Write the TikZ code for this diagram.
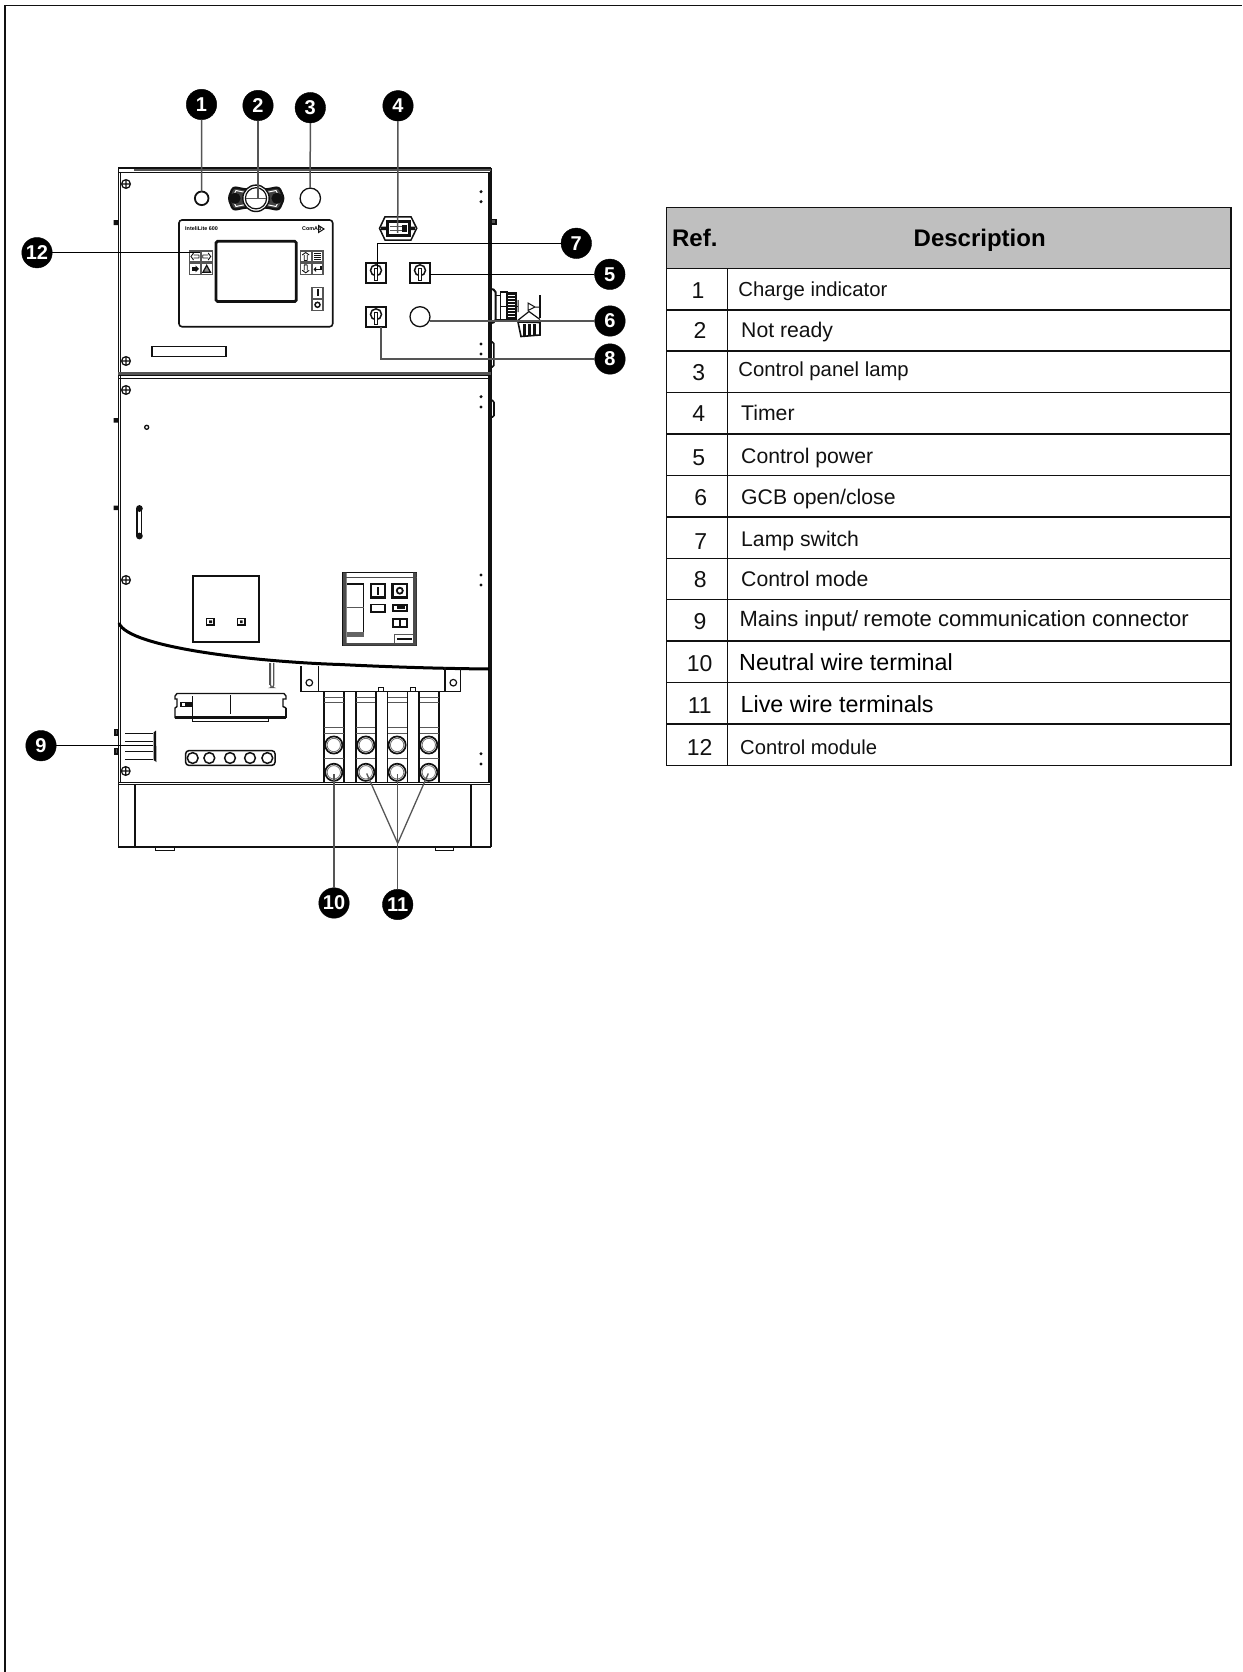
\documentclass[tikz,border=0pt]{standalone}
\usepackage{fontspec}
\setmainfont{Liberation Sans}
\usetikzlibrary{calc}
\definecolor{ink}{HTML}{111111}
\definecolor{lead}{HTML}{555555}
\definecolor{head}{HTML}{BFBFBF}
\tikzset{
  ln/.style={draw=ink,line width=1.1pt},
  thk/.style={draw=ink,line width=2pt},
  leadd/.style={draw=lead,line width=1.5pt},
  leadk/.style={draw=black,line width=1.2pt},
  badge/.style={circle,fill=black,draw=black,minimum size=30.5pt,inner sep=0pt,text=white,font=\fontsize{20}{20}\selectfont\bfseries},
  rowtxt/.style={anchor=base west,inner sep=0pt,text=ink},
  numtxt/.style={anchor=base,inner sep=0pt,text=ink,font=\fontsize{23}{26}\selectfont},
  hdr/.style={anchor=base,inner sep=0pt,text=black,font=\fontsize{24}{26}\selectfont\bfseries},
  tiny/.style={inner sep=0pt,text=black,font=\fontsize{5.4}{6}\selectfont\bfseries},
  tbl/.style={draw=ink,line width=1.5pt}
}
\newcommand{\fs}[1]{\fontsize{#1}{#1}\selectfont}
\newcommand{\screw}[2]{\draw[line width=1.2pt,draw=ink] (#1,#2) circle[radius=4.4pt] ({#1-4.4},#2)--({#1+4.4},#2) (#1,{#2-4.4})--(#1,{#2+4.4});}
\newcommand{\dotpair}[2]{\fill[ink] (481,#1) circle[radius=1.7pt] (481,#2) circle[radius=1.7pt];}
\newcommand{\swbox}[2]{\begin{scope}[shift={(#1,#2)}]
  \draw[line width=2pt,draw=ink] (0,0) rectangle (20,20);
  \draw[line width=1.5pt,draw=ink] (10,7) circle[radius=5.5pt];
  \fill[ink] (7.8,5) rectangle (12.2,18);
  \fill[white] (9.3,6) rectangle (10.7,17);
\end{scope}}
\newcommand{\btn}[3]{\begin{scope}[shift={(#1,#2)}]
  \draw[line width=1.4pt,draw=lead] (0,0) rectangle (11,11);
  #3
\end{scope}}
\begin{document}
\begin{tikzpicture}[x=1pt,y=-1pt]
\useasboundingbox (0,0) rectangle (1242,1672);
% page frame
\draw[line width=1.8pt,draw=ink] (5,1672) -- (5,5.5) -- (1242,5.5);

% ---------- cabinet body
\draw[line width=1.2pt,draw=ink] (118.3,847) -- (118.3,169) (120.3,172) -- (120.3,783);
\draw[line width=1.4pt,draw=ink] (491,168) -- (491,847) (488.8,172) -- (488.8,783);
\draw[line width=1.3pt,draw=ink] (118,168) -- (491,168);
\draw[line width=1.6pt,draw=lead] (134,169.8) -- (491,169.8);
\draw[line width=1.3pt,draw=ink] (118,172.3) -- (491,172.3);
\draw[line width=2.2pt,draw=lead] (118,373.5) -- (491,373.5);
\draw[line width=1.3pt,draw=ink] (118,375.8) -- (491,375.8) (118,378.3) -- (491,378.3);
\draw[line width=1.1pt,draw=ink] (118,782.8) -- (491,782.8) (118,784.8) -- (491,784.8);
\draw[line width=1.1pt,draw=ink] (135,785) -- (135,847) (471,785) -- (471,847);
\draw[line width=1.5pt,draw=ink] (118,847) -- (491,847);
\draw[line width=1pt,draw=ink] (155,848) -- (155,850) -- (174,850) -- (174,848) (435,848) -- (435,850) -- (453,850) -- (453,848);
% side tabs and handles
\fill[ink] (113.5,220) rectangle (118,225) (113.5,418) rectangle (118,422.5) (113.5,505.5) rectangle (118,510);
\draw[line width=1.4pt,draw=ink,fill=lead] (491.5,219.5) rectangle (496,224);
\draw[line width=1.6pt,draw=ink,rounded corners=1.5pt] (491,342) -- (493.8,342) -- (493.8,367) -- (491,367);
\draw[line width=1.6pt,draw=ink,rounded corners=1.5pt] (491,400) -- (494,401) -- (494,417) -- (491,417);
% curved cut-away line
\draw[line width=3pt,draw=black] (119,623) .. controls (128,648) and (260,662) .. (340,664.5) .. controls (390,667) and (440,668.5) .. (489,669);
% screws and dots
\screw{126}{184}\screw{126}{361}\screw{126}{390}\screw{126}{580}\screw{125.7}{771}
\dotpair{191.7}{201.7}\dotpair{344}{354}\dotpair{396.7}{407}\dotpair{575}{585}\dotpair{753.7}{764}

% ---------- top row devices
\draw[line width=1.8pt,draw=ink] (201.7,198.3) circle[radius=6.8pt];
\draw[line width=2.2pt,draw=ink,rounded corners=3pt,fill=ink!80] (228.5,198.3) -- (233,187) -- (246,189.5) -- (266,189.5) -- (279,187) -- (284,198.3) -- (279,210) -- (266,207.5) -- (246,207.5) -- (233,210) -- cycle;
\draw[line width=1pt,draw=white] (232,198.3) -- (236,190.5) -- (248,193) -- (264,193) -- (276,190.5) -- (280,198.3) -- (276,206.5) -- (264,204) -- (248,204) -- (236,206.5) -- cycle;
\fill[ink] (235,198.3) circle[radius=5.6pt] (277,198.3) circle[radius=5.6pt];
\draw[line width=1.4pt,draw=ink,fill=white] (256,198.3) circle[radius=13.2pt];
\draw[line width=1.2pt,draw=ink] (256,198.3) circle[radius=10.6pt];
\draw[line width=1.1pt,draw=lead] (246,198.3) -- (266,198.3);
\draw[line width=1.3pt,draw=ink] (310.3,198.3) circle[radius=10.2pt];
% timer
\draw[line width=1.5pt,draw=ink] (379.5,228.3) -- (385,216.8) -- (411,216.8) -- (416.7,228.3) -- (411,240) -- (385,240) -- cycle;
\draw[line width=3pt,draw=ink] (387,221.5) rectangle (409.5,235.5);
\fill[ink] (381,226.5) rectangle (387,230) (409.5,226.5) rectangle (415,230);
\draw[line width=.9pt,draw=lead] (390,230) -- (406,230) (390,226) -- (403,226);
\fill[ink] (402,225) rectangle (407,232);

% ---------- control module
\draw[line width=1.6pt,draw=ink,rounded corners=3pt] (179,220) rectangle (332.7,326.7);
\node[tiny,anchor=west] (modname) at (185,229) {InteliLite 600};
\node[tiny,anchor=west] (modmake) at (302,229) {ComAp};
\draw[line width=1pt,draw=ink] (318.5,225.5) -- (324,229) -- (318.5,232.5) -- cycle;
\draw[line width=2.8pt,draw=ink,rounded corners=1.5pt] (216,241.3) rectangle (296.3,301.5);
\btn{189.5}{251}{\draw[line width=.9pt,draw=ink] (9.5,4) -- (4,4) (9.5,7) -- (4,7) (4,2) -- (1.5,5.5) -- (4,9) (9.5,4) -- (9.5,7);}
\btn{201.2}{251}{\draw[line width=.9pt,draw=ink] (1.5,4) -- (7,4) (1.5,7) -- (7,7) (7,2) -- (9.5,5.5) -- (7,9) (1.5,4) -- (1.5,7);}
\btn{189.5}{263.3}{\fill[ink] (2,3.5) rectangle (7,7.5); \fill[ink] (6,2) -- (9.5,5.5) -- (6,9) -- cycle;}
\btn{201.2}{263.3}{\draw[line width=1.2pt,draw=ink,fill=ink!50] (5.5,2) -- (9.3,9) -- (1.7,9) -- cycle;}
\btn{300.2}{251}{\draw[line width=.9pt,draw=ink] (4,9.5) -- (4,4) (7,9.5) -- (7,4) (2,4) -- (5.5,1.5) -- (9,4) (4,9.5) -- (7,9.5);}
\btn{312}{251}{\draw[line width=.9pt,draw=ink] (2,2.5) -- (9,2.5) (2,4.5) -- (9,4.5) (2,6.5) -- (9,6.5) (2,8.5) -- (9,8.5);}
\btn{300.2}{263.3}{\draw[line width=.9pt,draw=ink] (4,1.5) -- (4,7) (7,1.5) -- (7,7) (2,7) -- (5.5,9.5) -- (9,7) (4,1.5) -- (7,1.5);}
\btn{312}{263.3}{\draw[line width=1.2pt,draw=ink] (9,2.5) -- (9,6) -- (3,6); \fill[ink] (4,3.5) -- (1.5,6) -- (4,8.5) -- cycle;}
\btn{312}{287.3}{\fill[ink] (4.5,2) rectangle (6.5,9);}
\btn{312}{299.3}{\draw[line width=1.5pt,draw=ink] (5.5,5.5) circle[radius=2.5pt];}
\draw[line width=1.2pt,draw=ink] (152,346.7) rectangle (226,356.7);

% ---------- switches and lamp
\swbox{366}{263.3}
\swbox{410}{263.3}
\swbox{366}{307.3}
\draw[line width=1.3pt,draw=ink] (420,316.7) circle[radius=10pt];

% ---------- connector on the side
\draw[line width=2pt,draw=ink,rounded corners=2pt] (491,289) -- (495.5,290) -- (495.5,322) -- (491,323);
\draw[line width=1pt,draw=ink] (495.5,295) -- (500,295) -- (500,319) -- (495.5,319) (500,306) -- (518,306);
\draw[line width=1.2pt,draw=ink] (500.8,292) rectangle (507,320);
\draw[line width=1.2pt,draw=ink] (507,293) rectangle (516,319);
\foreach \yy in {294,297,300,303,306,309,312,315,318}{\draw[line width=1.4pt,draw=ink] (507,\yy) -- (517,\yy);}
\draw[line width=1pt,draw=ink] (518,300) -- (518,312) (528,303) -- (535,307) -- (528,310.5) -- cycle (535,307) -- (540,307);
\draw[line width=1.2pt,draw=ink] (540,295) -- (540,318);
\draw[line width=1.2pt,draw=ink] (517,321) -- (529,311.5) -- (540,319.5);
\draw[line width=1.6pt,draw=ink] (518,322) -- (540,322.5) -- (540,335) -- (521,336.5) -- cycle;
\foreach \xx in {524.5,529.5,534.5}{\draw[line width=2.2pt,draw=ink] (\xx,324) -- (\xx,335.5);}

% ---------- lower door
\draw[line width=1.3pt,draw=ink] (146.7,427.3) circle[radius=2pt];
\draw[line width=1.2pt,draw=ink] (137,510) rectangle (141.8,535);
\fill[ink] (139.4,508.5) circle[radius=3.4pt] (139.4,536) circle[radius=3.4pt];
\draw[line width=1.9pt,draw=ink] (192.8,575.8) rectangle (258.7,641.7);
\draw[line width=1.6pt,draw=ink] (206.5,618.5) rectangle (214,624.7) (237.5,618.5) rectangle (245,624.7);
\fill[ink] (209,620.3) rectangle (212,623) (240,620.3) rectangle (242.6,623);
% breaker
\draw[line width=1.8pt,draw=ink] (343,572.5) rectangle (416.5,645.5);
\fill[ink!75] (343,572.5) rectangle (346.7,645.5) (413,572.5) rectangle (416.5,645.5) (343,643) rectangle (416.5,645.5);
\draw[line width=1.1pt,draw=ink!75] (343,577.7) -- (416.5,577.7);
\draw[line width=1.8pt,draw=ink] (346.7,583.8) -- (363.5,583.8) -- (363.5,636.5) -- (346.7,636.5);
\draw[line width=.9pt,draw=ink!70] (346.7,607.7) -- (363.5,607.7);
\fill[ink!65] (346.7,632) rectangle (363.5,636.5);
\draw[line width=2.2pt,draw=ink] (371,584) rectangle (385,597.5);
\fill[ink] (377,587) rectangle (379,595);
\draw[line width=2.6pt,draw=ink] (392.6,584) rectangle (407,597.5);
\draw[line width=1.8pt,draw=ink] (399.8,590.7) circle[radius=3pt];
\draw[line width=1.7pt,draw=ink] (371,604.5) rectangle (385,612);
\draw[line width=2.2pt,draw=ink] (392.8,604.7) rectangle (407,611);
\fill[ink] (396.5,606) rectangle (405,609);
\draw[line width=2pt,draw=ink] (392.8,618.5) rectangle (407,626.5) (399.9,618.5) -- (399.9,626.5);
\draw[line width=1pt,draw=ink!70] (394.3,643) -- (394.3,634.3) -- (413,634.3);
\draw[line width=2.4pt,draw=ink,rounded corners=1pt] (397,638.7) -- (412,638.7);

% ---------- lower compartment
\fill[lead] (268.5,663) rectangle (270.3,685);
\draw[line width=1.3pt,draw=lead,rounded corners=2.5pt] (270.5,663) -- (270.5,687.5) -- (273.7,687.5) -- (273.7,663);
\draw[line width=1.2pt,draw=ink] (301,666.3) -- (301,691.7) -- (318.3,691.7) (318.3,666.3) -- (318.3,691.7) -- (445,691.7) (445,667.3) -- (445,691.7) -- (460.7,691.7) -- (460.7,668);
\draw[line width=1.2pt,draw=ink] (309.3,682.7) circle[radius=3.3pt] (453.3,682.7) circle[radius=3.3pt];
\draw[line width=1pt,draw=ink] (378.8,691.7) -- (378.8,687.5) -- (383.3,687.5) -- (383.3,691.7) (410.5,691.7) -- (410.5,687.5) -- (415,687.5) -- (415,691.7);
\foreach \cx in {324,356,387.3,419}{
  \draw[line width=1.1pt,draw=ink] (\cx,691.7) -- (\cx,782.5) ({\cx+20},691.7) -- ({\cx+20},782.5);
  \draw[line width=.9pt,draw=ink!70] (\cx,697.3) -- ({\cx+20},697.3) (\cx,702.3) -- ({\cx+20},702.3) (\cx,727.7) -- ({\cx+20},727.7) (\cx,733.3) -- ({\cx+20},733.3) (\cx,758.3) -- ({\cx+20},758.3);
  \draw[line width=1.7pt,draw=ink] ({\cx+9.8},745) circle[radius=8.6pt] ({\cx+9.8},772.3) circle[radius=8.6pt];
  \draw[line width=.8pt,draw=ink!60] ({\cx+9.8},745) circle[radius=6.7pt] ({\cx+9.8},772.3) circle[radius=6.7pt];
}
\draw[line width=1.6pt,draw=ink] (376,691.7) -- (376,782.5) (387.3,691.7) -- (387.3,782.5) (407.3,691.7) -- (407.3,782.5) (419,691.7) -- (419,782.5);
% terminal block
\draw[line width=1.4pt,draw=ink] (175,696) -- (177,693.5) -- (284,693.5) -- (286,696) -- (286,699) -- (283,699) -- (283,706.5) -- (286,708);
\draw[line width=1.4pt,draw=ink] (175,696) -- (175,699) -- (177,699) -- (177,706.5) -- (175,708) -- (175,718);
\draw[line width=2.6pt,draw=ink] (175,717.5) -- (286,717.5);
\draw[line width=1.1pt,draw=ink] (286,708) -- (286,717.5);
\draw[line width=1.1pt,draw=ink] (192.7,696) -- (192.7,716) (230.7,695) -- (230.7,714);
\draw[line width=1.1pt,draw=ink] (192.7,718) -- (192.7,721.3) -- (268.3,721.3) -- (268.3,718);
\fill[ink] (180,702) rectangle (192.7,706.5);
\fill[white] (181.5,703) rectangle (185,705.5);
% terminal row
\draw[line width=1.5pt,draw=ink,rounded corners=3pt] (185.7,750.7) rectangle (275,765.3);
\foreach \hx in {192.7,209.3,230,250,267.3}{\draw[line width=1.5pt,draw=ink,fill=white] (\hx,758) circle[radius=5.4pt];}
% left comb connector
\foreach \yy in {733.3,741.7,751,759.3}{\draw[line width=1pt,draw=ink] (125,\yy) -- (153,\yy);}
\fill[ink] (153.5,732.5) -- (156,730.5) -- (156.5,762) -- (153.5,760) -- cycle;
\draw[line width=1.1pt,draw=ink,fill=lead] (115,729.5) rectangle (118,735) (115,748.5) rectangle (118,754);

% ---------- callouts
\node[badge] (b1) at (201.5,104.5) {1};
\node[badge] (b2) at (258,105.5) {2};
\node[badge] (b3) at (310.3,107.7) {3};
\node[badge] (b4) at (398,105.8) {4};
\node[badge] (b7) at (576.3,243.3) {7};
\node[badge] (b5) at (609.8,274.3) {5};
\node[badge] (b6) at (610,321) {6};
\node[badge] (b8) at (610,359) {8};
\node[badge] (b12) at (37,252.7) {12};
\node[badge] (b9) at (41,745.7) {9};
\node[badge] (b10) at (334,903) {10};
\node[badge] (b11) at (397.7,904.5) {11};
\coordinate (t1) at (201.7,191.5);
\coordinate (t2) at (258,198.3);
\coordinate (t3) at (310.2,188);
\coordinate (t4) at (397.7,233);
\coordinate (t5) at (430,274.3);
\coordinate (t6) at (430,321);
\coordinate (t7) at (377.3,270);
\coordinate (t8) at (381,326.7);
\coordinate (t9) at (153,745.7);
\coordinate (t10) at (334,774);
\coordinate (t12) at (200,252.7);
\coordinate (j11) at (397.7,843.3);
\coordinate (t11a) at (366.7,773.5);
\coordinate (t11b) at (397.7,773.5);
\coordinate (t11c) at (428.3,773.5);
\draw[leadd] (b1) -- (t1);
\draw[leadd] (b2) -- (t2);
\draw[leadd] (b3) -- (t3);
\draw[leadd] (b4) -- (t4);
\draw[leadk] (b5) -- (t5);
\draw[leadd] (b6) -- (t6);
\draw[leadk] (b7) -| (t7);
\draw[leadd] (b8) -| (t8);
\draw[leadk] (b9) -- (t9);
\draw[leadd] (b10) -- (t10);
\draw[leadd] (b11) -- (t11b);
\draw[line width=1.3pt,draw=lead] (j11) -- (t11a) (j11) -- (t11c);
\draw[leadk] (b12) -- (t12);

% ---------- table
\fill[head] (666.5,207.7) rectangle (1231,268.7);
\draw[tbl] (666.5,207.7) rectangle (1231,765.7);
\foreach \yy in {268.7,310,351,392.7,434,475.3,517,558.3,599.7,641,682.3,724}{\draw[tbl] (666.5,\yy) -- (1231,\yy);}
\draw[tbl] (727.6,268.7) -- (727.6,765.7);
\node[hdr] (href) at (694.8,246.7) {Ref.};
\node[hdr] (hdesc) at (979.7,246.7) {Description};
\foreach \nn/\nx/\ny in {1/698/298,2/700/338,3/698.7/380,4/698.8/421.7,5/698.8/465,6/700.7/505.7,7/700.7/549,8/700.3/587,9/699.9/629,10/699.7/671.7,11/699.7/713,12/699.7/755}{
  \node[numtxt] (n\nn) at (\nx,\ny) {\nn};
}
\node[rowtxt,font=\fs{20.3}] (d1) at (738.2,296.7) {Charge indicator};
\node[rowtxt,font=\fs{21.2}] (d2) at (741,337.7) {Not ready};
\node[rowtxt,font=\fs{20.3}] (d3) at (738.2,376.7) {Control panel lamp};
\node[rowtxt,font=\fs{21.2}] (d4) at (741,420) {Timer};
\node[rowtxt,font=\fs{21.2}] (d5) at (741,463) {Control power};
\node[rowtxt,font=\fs{21.2}] (d6) at (741,504) {GCB open/close};
\node[rowtxt,font=\fs{21.2}] (d7) at (741,546) {Lamp switch};
\node[rowtxt,font=\fs{21.2}] (d8) at (741,586) {Control mode};
\node[rowtxt,font=\fs{22}] (d9) at (739.4,626.7) {Mains input/\hspace{.24em}remote communication connector};
\node[rowtxt,font=\fs{23.3},text=black] (d10) at (739,670.7) {Neutral wire terminal};
\node[rowtxt,font=\fs{23.3},text=black] (d11) at (740.5,712.7) {Live wire terminals};
\node[rowtxt,font=\fs{20.2}] (d12) at (740,754) {Control module};
\end{tikzpicture}
\end{document}
